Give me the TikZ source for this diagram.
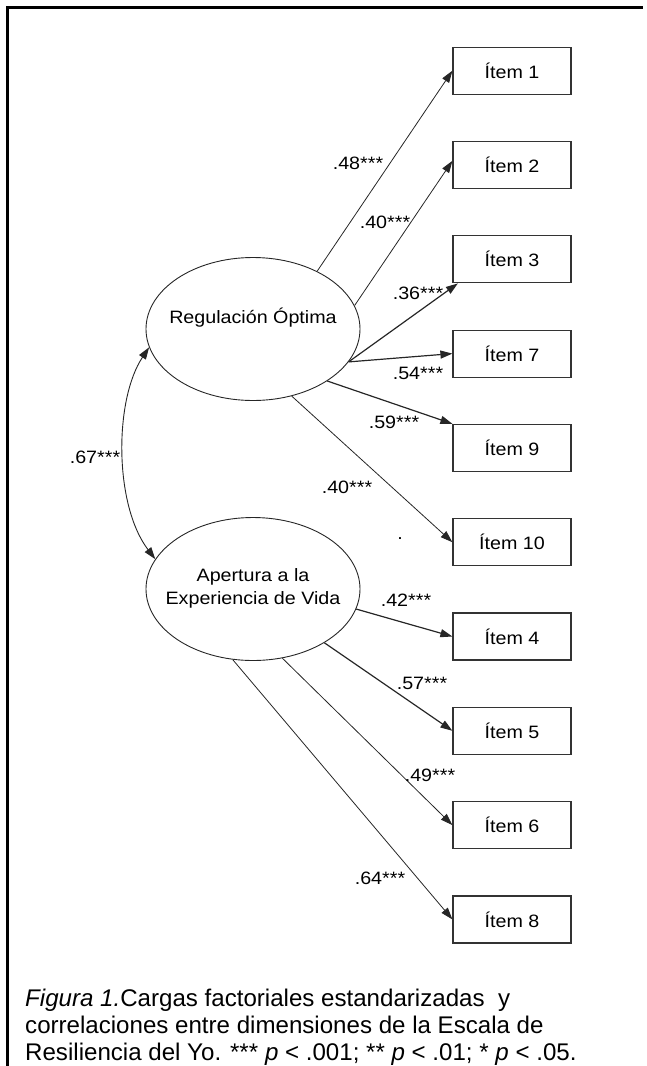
\documentclass[tikz,border=0pt]{standalone}
\usepackage{fontspec}
\setmainfont{Liberation Sans}[FakeStretch=1.1]
\newfontfamily\capfont{Liberation Sans}
\usetikzlibrary{shapes.geometric,arrows.meta}
\begin{document}
\begin{tikzpicture}[x=1pt,y=-1pt,
 itembox/.style={draw=black!80,line width=1.2pt,minimum width=118pt,minimum height=47pt,inner sep=0pt,font=\fontsize{17.9}{21}\selectfont},
 latent/.style={draw=black!85,line width=0.9pt,ellipse,minimum width=214pt,minimum height=143pt,inner sep=0pt},
 lbl/.style={font=\fontsize{17.9}{21}\selectfont,inner sep=0pt},
 arr/.style={-{Triangle[length=12pt,width=8pt]},draw=black!85,line width=0.8pt},
 arrb/.style={arr,line width=1.2pt},
 captext/.style={anchor=base west,inner sep=0pt,font=\capfont\fontsize{24.1}{27}\selectfont}]
\useasboundingbox (0,0) rectangle (646,1066);
\draw[line width=3pt] (7,1066) -- (7,7) -- (643,7);
% items
\node[itembox] (i1) at (512,70.7) {Ítem 1};
\node[itembox] (i2) at (512,165.0) {Ítem 2};
\node[itembox] (i3) at (512,259.3) {Ítem 3};
\node[itembox] (i7) at (512,353.6) {Ítem 7};
\node[itembox] (i9) at (512,447.9) {Ítem 9};
\node[itembox] (i10) at (512,542.2) {Ítem 10};
\node[itembox] (i4) at (512,636.5) {Ítem 4};
\node[itembox] (i5) at (512,730.8) {Ítem 5};
\node[itembox] (i6) at (512,825.1) {Ítem 6};
\node[itembox] (i8) at (512,919.4) {Ítem 8};
% latent variables
\node[latent] (reg) at (253,329) {};
\node[lbl] (regt) at (253,318) {Regulación Óptima};
\node[latent] (apr) at (253,589) {};
\node[lbl,align=center] (aprt) at (253,588.5) {Apertura a la\\[1.5pt]Experiencia de Vida};
% loadings
\draw[arr] (reg.42.7) -- (i1.west);
\draw[arr] (reg.13.2) -- (i2.176);
\draw[arrb] (reg.-19) -- (i3.204);
\draw[arrb] (reg.-19) -- (i7.west);
\draw[arrb] (reg.-35) -- (i9.north west);
\draw[arr] (reg.-60.2) -- (i10.west);
\draw[arrb] (apr.-11.4) -- (i4.west);
\draw[arrb] (apr.-37) -- (i5.west);
\draw[arr] (apr.-67.4) -- (i6.west);
\draw[arr] (apr.-106.2) -- (i8.west);
% correlation
\draw[{Triangle[length=12pt,width=8pt]}-{Triangle[length=12pt,width=8pt]},draw=black!85,line width=0.9pt]
  (reg.190.4) .. controls (114,400) and (114,505) .. (apr.163.5);
% labels
\node[lbl] (l1) at (358,163) {.48***};
\node[lbl] (l2) at (385,222) {.40***};
\node[lbl] (l3) at (418,293) {.36***};
\node[lbl] (l7) at (418,373) {.54***};
\node[lbl] (l9) at (394,422) {.59***};
\node[lbl] (l10) at (347,487) {.40***};
\node[lbl,anchor=base] (dot) at (400,539) {.};
\node[lbl] (l4) at (406,600) {.42***};
\node[lbl] (l5) at (422,683) {.57***};
\node[lbl] (l6) at (430,775) {.49***};
\node[lbl] (l8) at (380,878) {.64***};
\node[lbl] (lc) at (95,457) {.67***};
% caption
\node[captext] (cap1) at (25,1006.7) {\textit{Figura 1.}Cargas factoriales estandarizadas \ y};
\node[captext] (cap2) at (25,1033.3) {correlaciones entre dimensiones de la Escala de};
\node[captext] (cap3) at (25,1060) {Resiliencia del Yo. *** \textit{p} < .001; ** \textit{p} < .01; * \textit{p} < .05.};
\end{tikzpicture}
\end{document}
